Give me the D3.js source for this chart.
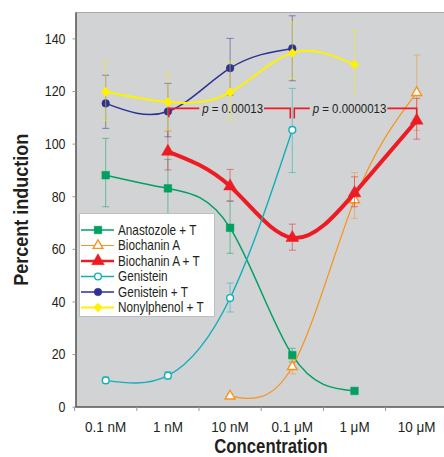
<!DOCTYPE html>
<html><head><meta charset="utf-8">
<script src="https://cdn.jsdelivr.net/npm/d3@7"></script>
<style>
body{margin:0;background:#fff;}
text{font-family:"Liberation Sans Narrow","Arial Narrow","Liberation Sans",Arial,sans-serif;}
</style></head>
<body><svg id="c" width="444" height="457"></svg>
<script>
const categories = ["0.1 nM","1 nM","10 nM","0.1 \u03bcM","1 \u03bcM","10 \u03bcM"];
const yTicks = [0,20,40,60,80,100,120,140];

const seriesNames = ["Anastozole + T","Biochanin A","Biochanin A + T","Genistein","Genistein + T","Nonylphenol + T"];
const anastozoleT    = [88, 83, 68, 19.6, 6, null];
const anastozoleTLo  = [76, 72, 58.3, 17, null, null];
const anastozoleTHi  = [102, 94, 78, 22.2, null, null];
const biochaninA     = [null, null, 4, 15.2, 78.6, 119.4];
const biochaninALo   = [null, null, 3, 12.5, 71.6, 105];
const biochaninAHi   = [null, null, 5, 18, 89, 133.7];
const biochaninAT    = [null, 97, 83.8, 64.2, 81.2, 108.8];
const biochaninATLo  = [null, 90, 78.3, 59.5, 76, 101.7];
const biochaninATHi  = [null, 104.8, 90.2, 69.4, 87.4, 117.2];
const genistein      = [10, 11.8, 41.3, 105.2, null, null];
const genisteinLo    = [9, 10.5, 36, 89, null, null];
const genisteinHi    = [11.3, 13.3, 47, 121, null, null];
const genisteinT     = [115.3, 112.2, 128.7, 136.2, null, null];
const genisteinTLo   = [105.8, 102.6, 118.5, 123.9, null, null];
const genisteinTHi   = [126, 122.9, 140, 148.6, null, null];
const nonylphenolT   = [119.7, 115.8, 119.5, 134.5, 130.1, null];
const nonylphenolTLo = [108.7, 104.8, 109, 124.8, 119.5, null];
const nonylphenolTHi = [131.3, 127, 131.4, 146.3, 142.8, null];

const pLabels = ["0.00013", "0.0000013"];
const pBracketValue = 113.4;

const colors = ["#00a160","#f7941d","#ed1c24","#12afbb","#2e3192","#fff200"];
const series = [
  {name:seriesNames[0], v:anastozoleT, lo:anastozoleTLo, hi:anastozoleTHi, sym:"square", open:false, w:1.5},
  {name:seriesNames[1], v:biochaninA, lo:biochaninALo, hi:biochaninAHi, sym:"triangle", open:true, w:1.2},
  {name:seriesNames[2], v:biochaninAT, lo:biochaninATLo, hi:biochaninATHi, sym:"triangle", open:false, w:4},
  {name:seriesNames[3], v:genistein, lo:genisteinLo, hi:genisteinHi, sym:"circle", open:true, w:1.4},
  {name:seriesNames[4], v:genisteinT, lo:genisteinTLo, hi:genisteinTHi, sym:"circle", open:false, w:1.5},
  {name:seriesNames[5], v:nonylphenolT, lo:nonylphenolTLo, hi:nonylphenolTHi, sym:"diamond", open:false, w:2}
];
series.forEach((s,i)=>s.color=colors[i]);

// horizontally condense a text (emulates a condensed typeface)
function condense(sel, k){
  sel.each(function(){
    const t = d3.select(this);
    const xv = +(t.attr("x") || 0);
    const tr = t.attr("transform") || "";
    t.attr("x", xv / k).attr("transform", (tr ? tr + " " : "") + `scale(${k},1)`);
  });
}

const svg = d3.select("#c");
const L = 75.5, T = 12.5, B = 407, R = 444;
const x = d3.scaleBand().domain(categories).range([74.6, 447.8]).padding(0);
const cx = c => x(c) + x.bandwidth()/2;
const y = d3.scaleLinear().domain([0,150]).range([406.7, 12.1]);

// background
svg.append("rect").attr("x",L).attr("y",T).attr("width",R-L).attr("height",B-T).attr("fill","#d1d3d4");
svg.append("line").attr("x1",L).attr("x2",R).attr("y1",T).attr("y2",T).attr("stroke","#a7a9ac").attr("stroke-width",1);

// y axis
const gy = svg.append("g").attr("transform",`translate(${L},0)`)
  .call(d3.axisLeft(y).tickValues(yTicks).tickSize(3).tickPadding(7).tickSizeOuter(0));
gy.select(".domain").attr("stroke","#555").attr("stroke-width",1.5);
gy.selectAll(".tick line").attr("stroke","#999");
gy.selectAll("text").attr("font-size",15).attr("fill","#231f20").call(condense, 0.83);

// x axis
const gx = svg.append("g").attr("transform",`translate(0,${B})`)
  .call(d3.axisBottom(x).tickSize(0).tickPadding(14));
gx.select(".domain").attr("d",`M${L},0H${R}`).attr("stroke","#555").attr("stroke-width",1.5);
gx.selectAll("text").attr("font-size",15).attr("fill","#231f20").call(condense, 0.9);
categories.forEach(c=>{
  const xt = x(c);
  if (xt >= L-1) gx.append("line").attr("x1",xt).attr("x2",xt).attr("y1",0).attr("y2",4).attr("stroke","#999");
});

// axis titles
svg.append("text").attr("x",271).attr("y",453).attr("text-anchor","middle")
  .attr("font-size",19.5).attr("font-weight","bold").attr("fill","#231f20").text("Concentration")
  .call(condense, 0.86);
svg.append("text").attr("transform",`translate(28,${(T+B)/2}) rotate(-90)`).attr("text-anchor","middle")
  .attr("font-size",20).attr("font-weight","bold").attr("fill","#231f20").text("Percent induction")
  .call(condense, 0.9);

const symType = {square:d3.symbolSquare, triangle:d3.symbolTriangle, circle:d3.symbolCircle, diamond:d3.symbolSquare};
function symSize(s){ return s.sym==="square"?58 : s.sym==="triangle"?(s.open?42:70) : s.sym==="circle"?(s.open?36:46) : 40; }
function drawMarker(g, s, px, py){
  g.append("path").attr("d", d3.symbol().type(symType[s.sym]).size(symSize(s))())
    .attr("transform",`translate(${px},${py})` + (s.sym==="diamond"?" rotate(45)":""))
    .attr("fill", s.open ? "#fff" : s.color)
    .attr("stroke", s.color).attr("stroke-width", s.open?1.4:0.5);
}

// series
const plot = svg.append("g");
series.forEach(s=>{
  const g = plot.append("g");
  const pts = categories.map((c,i)=>({c, v:s.v[i], lo:s.lo[i], hi:s.hi[i]})).filter(d=>d.v!=null);
  pts.filter(d=>d.lo!=null).forEach(d=>{
    const px = cx(d.c);
    const eg = g.append("g").attr("stroke",s.color).attr("stroke-opacity",0.5).attr("stroke-width",1);
    eg.append("line").attr("x1",px).attr("x2",px).attr("y1",Math.max(y(d.hi),T)).attr("y2",y(d.lo));
    if (y(d.hi) > T) eg.append("line").attr("x1",px-3.5).attr("x2",px+3.5).attr("y1",y(d.hi)).attr("y2",y(d.hi));
    eg.append("line").attr("x1",px-3.5).attr("x2",px+3.5).attr("y1",y(d.lo)).attr("y2",y(d.lo));
  });
  g.append("path").datum(pts)
    .attr("d", d3.line().x(d=>cx(d.c)).y(d=>y(d.v)).curve(d3.curveNatural))
    .attr("fill","none").attr("stroke",s.color).attr("stroke-width",s.w);
  pts.forEach(d=>drawMarker(g, s, cx(d.c), y(d.v)));
});

// p-value brackets
const red = "#ed1c24";
const by = y(pBracketValue);
const x1 = cx(categories[1]) + 1, xm = cx(categories[3]), x3 = cx(categories[5]);
const ann = svg.append("g");
const kP = 0.85;
function pText(xc, label){
  const t = ann.append("text").attr("x",xc).attr("y",by+4.5).attr("text-anchor","middle")
    .attr("font-size",13.5).attr("fill","#231f20");
  t.append("tspan").attr("font-style","italic").text("p");
  t.append("tspan").text(" = " + label);
  t.call(condense, kP);
  const bb = t.node().getBBox();
  return {x: bb.x * kP, width: bb.width * kP};
}
const b1 = pText((x1 + xm)/2 + 2, pLabels[0]);
const b2 = pText((xm + x3)/2 - 5, pLabels[1]);
const rp = d3.path();
rp.moveTo(x1, y(110)); rp.lineTo(x1, by); rp.lineTo(b1.x - 2, by);
rp.moveTo(b1.x + b1.width + 1, by); rp.lineTo(xm - 2, by); rp.lineTo(xm - 2, y(109.6));
rp.moveTo(xm + 2, y(109.6)); rp.lineTo(xm + 2, by); rp.lineTo(b2.x - 2, by);
rp.moveTo(b2.x + b2.width + 1, by); rp.lineTo(x3, by); rp.lineTo(x3, y(biochaninAT[5]));
ann.append("path").attr("d", rp.toString()).attr("fill","none").attr("stroke",red).attr("stroke-width",1.6);

// legend
const lg = svg.append("g");
lg.append("rect").attr("x",79.5).attr("y",213.5).attr("width",135).attr("height",103)
  .attr("fill","#fff").attr("stroke","#bcbec0").attr("stroke-width",1);
series.forEach((s,i)=>{
  const ly = 230 + i*15.5;
  lg.append("line").attr("x1",81).attr("x2",114).attr("y1",ly).attr("y2",ly)
    .attr("stroke",s.color).attr("stroke-width",Math.min(s.w,2.5));
  drawMarker(lg, s, 98, ly);
  lg.append("text").attr("x",118).attr("y",ly+5).attr("font-size",14).attr("fill","#231f20").text(s.name)
    .call(condense, 0.84);
});
</script></body></html>
